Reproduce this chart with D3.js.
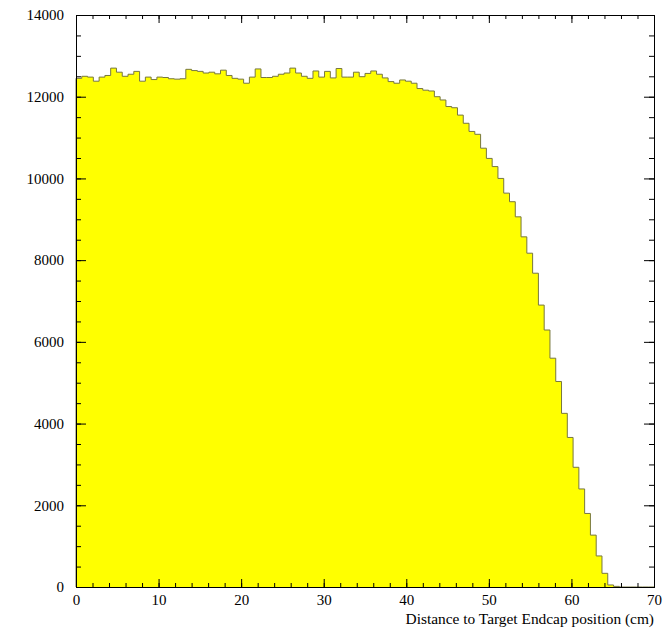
<!DOCTYPE html>
<html>
<head>
<meta charset="utf-8">
<script src="https://cdn.jsdelivr.net/npm/d3@7"></script>
<style>
  html, body { margin: 0; padding: 0; background: #fff; }
  svg { display: block; }
  text { font-family: "Liberation Serif", "Times New Roman", serif; fill: #000; }
</style>
</head>
<body>
<svg id="chart" width="670" height="628"></svg>
<script>
// ---- data (100 bins, 0..70 cm, width 0.7) ----
const binStart = 0;
const binWidth = 0.7;
const counts = [
  12450, 12500, 12480, 12380, 12480, 12520, 12700, 12600, 12500, 12550,
  12620, 12380, 12480, 12420, 12480, 12470, 12440, 12430, 12440, 12670,
  12640, 12620, 12580, 12600, 12560, 12650, 12520, 12450, 12430, 12330,
  12480, 12680, 12470, 12470, 12500, 12550, 12580, 12700, 12580, 12500,
  12450, 12630, 12480, 12620, 12460, 12690, 12480, 12480, 12600, 12490,
  12570, 12630, 12550, 12460, 12370, 12330, 12410, 12380, 12330, 12200,
  12160, 12140, 12000, 11920, 11760, 11730, 11550, 11350, 11150, 11080,
  10740, 10490, 10290, 10000, 9640, 9430, 9060, 8570, 8170, 7680,
  6900, 6290, 5600, 5030, 4250, 3660, 2930, 2400, 1800, 1270,
  760, 335, 50, 15, 0, 0, 0, 0, 0, 0
];
const xTicks = [0, 10, 20, 30, 40, 50, 60, 70];
const yTicks = [0, 2000, 4000, 6000, 8000, 10000, 12000, 14000];
const xLabel = "Distance to Target Endcap position (cm)";

// ---- layout ----
const L = 76, R = 654, T = 15, B = 587;
const svg = d3.select("#chart");

const x = d3.scaleLinear().domain([0, 70]).range([L, R]);
const y = d3.scaleLinear().domain([0, 14000]).range([B, T]);

// histogram points (step after)
const pts = counts.map((c, i) => [binStart + i * binWidth, c]);
pts.push([binStart + counts.length * binWidth, counts[counts.length - 1]]);

const area = d3.area()
  .x(d => x(d[0]))
  .y0(y(0))
  .y1(d => y(d[1]))
  .curve(d3.curveStepAfter);
const line = d3.line()
  .x(d => x(d[0]))
  .y(d => y(d[1]))
  .curve(d3.curveStepAfter);

svg.append("path").attr("d", area(pts)).attr("fill", "#ffff00").attr("stroke", "none");
svg.append("path").attr("d", line([[0, 0]].concat(pts)))
  .attr("fill", "none").attr("stroke", "#77773f").attr("stroke-width", 1);

// ---- axes ----
const xMinor = d3.range(0, 70.001, 2);
const yMinor = d3.range(0, 14000.1, 500);

function styleAxis(g) {
  g.select(".domain").remove();
  g.selectAll("line").attr("stroke", "#000").attr("stroke-width", 1);
  g.selectAll("text").style("font-size", "15px").attr("fill", "#000");
}

// bottom
svg.append("g").attr("transform", `translate(0,${B})`)
  .call(d3.axisBottom(x).tickValues(xMinor).tickSize(-4).tickFormat(""))
  .call(styleAxis);
svg.append("g").attr("transform", `translate(0,${B})`)
  .call(d3.axisBottom(x).tickValues(xTicks).tickSize(-8).tickPadding(7).tickFormat(d3.format("d")))
  .call(styleAxis);
// top
svg.append("g").attr("transform", `translate(0,${T})`)
  .call(d3.axisTop(x).tickValues(xMinor).tickSize(-4).tickFormat(""))
  .call(styleAxis);
svg.append("g").attr("transform", `translate(0,${T})`)
  .call(d3.axisTop(x).tickValues(xTicks).tickSize(-8).tickFormat(""))
  .call(styleAxis);
// left
svg.append("g").attr("transform", `translate(${L},0)`)
  .call(d3.axisLeft(y).tickValues(yMinor).tickSize(-5).tickFormat(""))
  .call(styleAxis);
svg.append("g").attr("transform", `translate(${L},0)`)
  .call(d3.axisLeft(y).tickValues(yTicks).tickSize(-10).tickPadding(12).tickFormat(d3.format("d")))
  .call(styleAxis);
// right
svg.append("g").attr("transform", `translate(${R},0)`)
  .call(d3.axisRight(y).tickValues(yMinor).tickSize(-5).tickFormat(""))
  .call(styleAxis);
svg.append("g").attr("transform", `translate(${R},0)`)
  .call(d3.axisRight(y).tickValues(yTicks).tickSize(-10).tickFormat(""))
  .call(styleAxis);

// frame
svg.append("rect")
  .attr("x", L + 0.5).attr("y", T + 0.5)
  .attr("width", R - L).attr("height", B - T)
  .attr("fill", "none").attr("stroke", "#000").attr("stroke-width", 1);

// x-axis title
svg.append("text")
  .attr("x", R).attr("y", 624)
  .attr("text-anchor", "end")
  .style("font-size", "15.4px")
  .text(xLabel);
</script>
</body>
</html>
